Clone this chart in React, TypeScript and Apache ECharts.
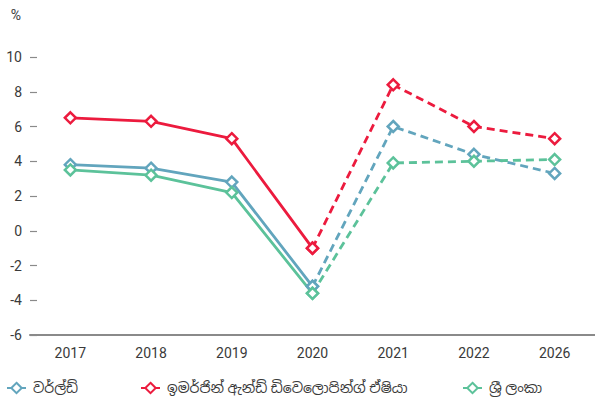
import React, { useEffect, useRef } from "react";
import * as echarts from "echarts";

const categories = ["2017", "2018", "2019", "2020", "2021", "2022", "2026"];
const seriesNames = ["වර්ල්ඩ්", "ඉමර්ජින් ඇන්ඩ් ඩිවෙලොපින්ග් ඒෂියා", "ශ්‍රී ලංකා"];
const worldValues = [3.8, 3.6, 2.8, -3.2, 6.0, 4.4, 3.3];
const asiaValues = [6.5, 6.3, 5.3, -1.0, 8.4, 6.0, 5.3];
const sriLankaValues = [3.5, 3.2, 2.2, -3.6, 3.9, 4.0, 4.1];
const yTicks = { min: -6, max: 10, interval: 2 };
const splitIndex = 3; // actual up to 2020, projections after

const colors = ["#62A5BD", "#EC1B3E", "#5CC29A"];
const FONT = "Roboto, 'Noto Sans Sinhala', 'Noto Sans', sans-serif";

export default function App() {
  const ref = useRef<HTMLDivElement>(null);
  useEffect(() => {
    document.body.style.margin = "0";
    if (!ref.current) return;
    const chart = echarts.init(ref.current, undefined, { renderer: "svg" });
    const all = [worldValues, asiaValues, sriLankaValues];
    const series: any[] = [];
    all.forEach((vals, i) => {
      const solid = vals.map((v, k) => (k <= splitIndex ? v : "-"));
      const dashed = vals.map((v, k) => (k >= splitIndex ? v : "-"));
      const common = {
        type: "line",
        name: seriesNames[i],
        symbol: "diamond",
        symbolSize: 11,
        color: colors[i],
        itemStyle: { color: "#fff", borderColor: colors[i], borderWidth: 2.5 },
        z: i === 1 ? 3 : 2,
      };
      series.push({
        ...common,
        data: solid,
        lineStyle: { color: colors[i], width: 2.8, type: "solid" },
      });
      series.push({
        ...common,
        data: dashed,
        lineStyle: { color: colors[i], width: 2.8, type: [8, 5] },
      });
    });
    const legendLefts = [6, 140, 462];
    chart.setOption({
      animation: false,
      textStyle: { fontFamily: FONT },
      grid: { left: 30, width: 567, top: 57, bottom: 66 },
      legend: legendLefts.map((l, i) => ({
        data: [seriesNames[i]],
        left: l,
        top: 381,
        padding: 0,
        itemWidth: 19,
        itemHeight: 13,
        itemGap: 0,
        selectedMode: false,
        textStyle: { fontFamily: FONT, fontSize: 14, color: "#3a3a3a", padding: [0, 0, 0, 2] },
      })),
      xAxis: {
        type: "category",
        data: categories,
        boundaryGap: true,
        axisLine: { onZero: false, lineStyle: { color: "#8a8a8a", width: 2 } },
        axisTick: { show: false },
        axisLabel: { color: "#3a3a3a", fontSize: 14, margin: 11, fontFamily: FONT },
      },
      yAxis: {
        type: "value",
        min: yTicks.min,
        max: yTicks.max,
        interval: yTicks.interval,
        name: "%",
        nameLocation: "end",
        nameGap: 35,
        nameTextStyle: { color: "#3a3a3a", fontSize: 14, align: "right", padding: [0, 9, 0, 0], fontFamily: FONT },
        axisLine: { show: false },
        axisTick: { show: true, inside: true, length: 7, lineStyle: { color: "#8a8a8a", width: 1.2 } },
        splitLine: { show: false },
        axisLabel: { color: "#3a3a3a", fontSize: 14, margin: 8, fontFamily: FONT },
      },
      series,
    });
    return () => chart.dispose();
  }, []);
  return <div ref={ref} style={{ width: 595, height: 401 }} />;
}
